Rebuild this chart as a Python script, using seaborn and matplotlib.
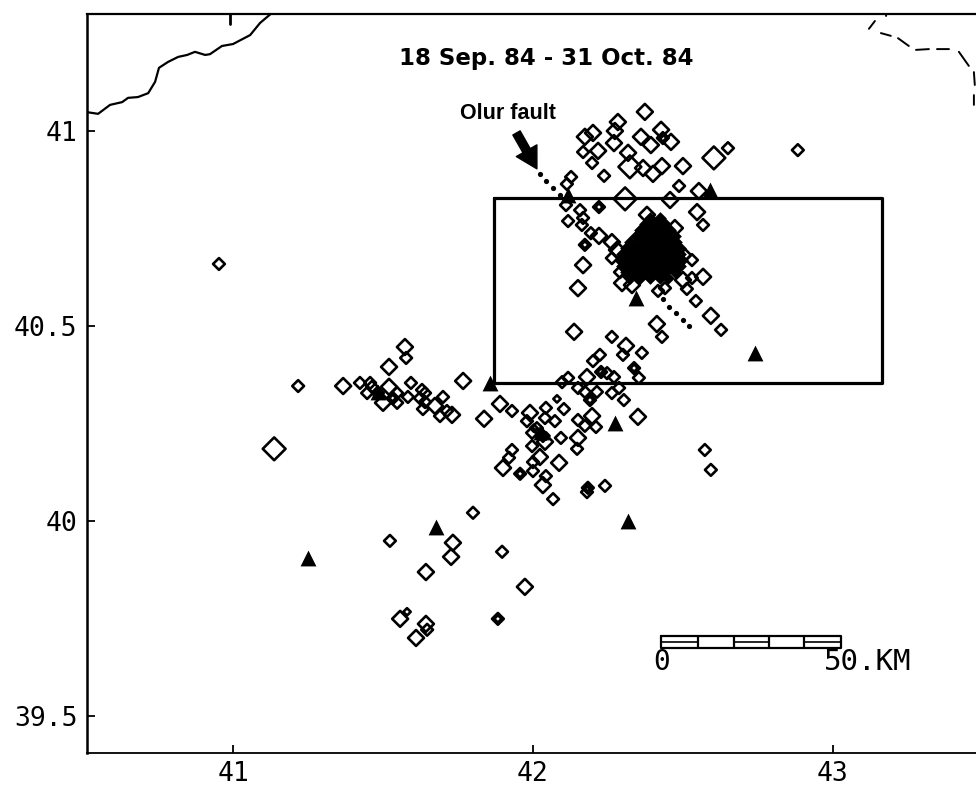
import numpy as np
import matplotlib
matplotlib.use("Agg")
import matplotlib.pyplot as plt
import seaborn as sns

# Epicentres (longitude, latitude), one pair of lists per symbol size
lon_xs = [42.080, 41.580, 42.433, 42.220, 42.173, 42.227, 42.337, 42.190, 41.957, 42.183, 41.883,
          42.023, 42.003, 42.043, 41.483, 41.533]
lat_xs = [40.313, 39.767, 40.982, 40.805, 40.708, 40.382, 40.392, 40.310, 40.121, 40.085, 39.749,
          40.228, 40.238, 40.218, 40.328, 40.315]

lon_s = [42.167, 42.197, 42.237, 42.433, 42.650, 42.487, 42.567, 42.127, 42.113, 42.110, 42.220,
         42.117, 42.157, 42.167, 42.163, 42.193, 42.173, 42.263, 42.290, 42.507, 42.530, 42.530,
         42.513, 42.440, 42.417, 42.543, 42.627, 42.430, 42.263, 42.300, 42.363, 42.223, 42.200,
         42.227, 42.247, 42.270, 42.337, 42.353, 42.117, 42.097, 42.150, 42.173, 42.213, 42.263,
         42.287, 42.303, 42.190, 42.103, 42.043, 41.930, 41.980, 42.040, 42.073, 42.150, 42.173,
         42.210, 41.997, 42.093, 42.147, 41.997, 41.930, 41.920, 42.000, 42.000, 41.957, 42.043,
         42.067, 42.183, 42.180, 42.240, 42.013, 42.033, 41.217, 41.577, 41.423, 41.457, 41.447,
         41.463, 41.483, 41.533, 41.547, 41.547, 41.593, 41.583, 41.630, 41.640, 41.623, 41.640,
         41.633, 41.700, 41.713, 41.690, 41.800, 41.523, 41.897, 41.883, 41.647, 42.883, 42.573,
         42.593, 40.953]
lat_s = [40.946, 40.918, 40.885, 40.982, 40.956, 40.859, 40.759, 40.882, 40.864, 40.810, 40.805,
         40.769, 40.797, 40.777, 40.759, 40.738, 40.708, 40.674, 40.638, 40.682, 40.669, 40.623,
         40.595, 40.597, 40.590, 40.564, 40.490, 40.472, 40.472, 40.426, 40.431, 40.426, 40.410,
         40.382, 40.379, 40.369, 40.392, 40.367, 40.367, 40.356, 40.341, 40.331, 40.331, 40.328,
         40.341, 40.310, 40.310, 40.287, 40.290, 40.282, 40.256, 40.264, 40.256, 40.259, 40.244,
         40.241, 40.226, 40.213, 40.185, 40.192, 40.182, 40.162, 40.151, 40.128, 40.121, 40.115,
         40.056, 40.085, 40.074, 40.090, 40.238, 40.218, 40.346, 40.418, 40.354, 40.354, 40.328,
         40.344, 40.328, 40.315, 40.328, 40.303, 40.354, 40.318, 40.336, 40.328, 40.315, 40.305,
         40.287, 40.318, 40.282, 40.269, 40.021, 39.949, 39.921, 39.749, 39.721, 40.951, 40.182,
         40.131, 40.659]

lon_m = [42.373, 42.283, 42.273, 42.200, 42.173, 42.217, 42.270, 42.317, 42.360, 42.427, 42.393,
         42.460, 42.367, 42.430, 42.400, 42.500, 42.553, 42.457, 42.547, 42.220, 42.167, 42.150,
         42.263, 42.280, 42.380, 42.473, 42.567, 42.500, 42.330, 42.297, 42.593, 42.413, 42.137,
         42.310, 42.180, 42.197, 42.350, 41.890, 41.837, 41.990, 42.040, 42.150, 42.023, 41.900,
         42.087, 42.033, 41.573, 41.520, 41.367, 41.520, 41.500, 41.673, 41.730, 41.767, 41.733,
         41.727, 41.643, 41.973, 41.557, 41.643, 41.610]
lat_m = [41.049, 41.023, 41.000, 40.995, 40.985, 40.949, 40.969, 40.944, 40.985, 41.003, 40.964,
         40.972, 40.905, 40.910, 40.890, 40.910, 40.846, 40.823, 40.792, 40.731, 40.656, 40.597,
         40.715, 40.695, 40.785, 40.751, 40.626, 40.618, 40.605, 40.610, 40.526, 40.505, 40.485,
         40.449, 40.369, 40.269, 40.267, 40.300, 40.262, 40.277, 40.203, 40.213, 40.164, 40.136,
         40.149, 40.092, 40.446, 40.395, 40.346, 40.344, 40.303, 40.295, 40.272, 40.359, 39.944,
         39.908, 39.869, 39.831, 39.749, 39.736, 39.700]

lon_l = [42.323, 42.603, 42.307, 41.137]
lat_l = [40.908, 40.931, 40.826, 40.185]

# Main shock cluster, so dense in the original that it prints solid
lon_blob = [42.390, 42.423,
            42.373, 42.407, 42.440,
            42.357, 42.390, 42.423, 42.457,
            42.343, 42.373, 42.407, 42.440, 42.473,
            42.323, 42.357, 42.390, 42.423, 42.457, 42.477,
            42.310, 42.340, 42.373, 42.407, 42.440, 42.473, 42.490,
            42.297, 42.323, 42.357, 42.390, 42.423, 42.457, 42.490,
            42.290, 42.307, 42.340, 42.373, 42.407, 42.440, 42.473, 42.497,
            42.297, 42.323, 42.357, 42.390, 42.423, 42.457, 42.490,
            42.310, 42.340, 42.373, 42.407, 42.440, 42.473,
            42.323, 42.357, 42.390, 42.423, 42.450]
lat_blob = [40.777, 40.777,
            40.762, 40.762, 40.762,
            40.746, 40.746, 40.746, 40.746,
            40.731, 40.731, 40.731, 40.731, 40.731,
            40.715, 40.715, 40.715, 40.715, 40.715, 40.715,
            40.700, 40.700, 40.700, 40.700, 40.700, 40.700, 40.700,
            40.685, 40.685, 40.685, 40.685, 40.685, 40.685, 40.685,
            40.669, 40.669, 40.669, 40.669, 40.669, 40.669, 40.669, 40.669,
            40.654, 40.654, 40.654, 40.654, 40.654, 40.654, 40.654,
            40.638, 40.638, 40.638, 40.638, 40.638, 40.638,
            40.623, 40.623, 40.623, 40.623, 40.623]

# Stations
lon_sta = [42.590, 42.117, 42.343, 42.740, 41.857, 41.483, 42.273, 42.317, 41.677, 41.250, 42.027]
lat_sta = [40.849, 40.836, 40.572, 40.431, 40.354, 40.331, 40.251, 40.000, 39.985, 39.905, 40.228]

# Olur fault trace (dotted)
lon_fault = [42.023, 42.043, 42.067, 42.090, 42.433, 42.453, 42.477, 42.500, 42.520]
lat_fault = [40.890, 40.872, 40.854, 40.836, 40.569, 40.549, 40.533, 40.515, 40.500]

# Black Sea coast
lon_coast = [40.507, 40.550, 40.590, 40.630, 40.650, 40.683, 40.717, 40.740, 40.753, 40.783,
             40.817, 40.847, 40.873, 40.907, 40.923, 40.963, 41.000, 41.057, 41.090, 41.133]
lat_coast = [41.049, 41.044, 41.067, 41.074, 41.085, 41.087, 41.097, 41.126, 41.162, 41.177,
             41.190, 41.195, 41.203, 41.195, 41.197, 41.218, 41.223, 41.246, 41.277, 41.305]

# Border, gaps kept as nan
lon_border = [43.180, 43.177, np.nan, 43.140, 43.120, np.nan, 43.160, 43.193, np.nan, 43.217, 43.253,
              np.nan, 43.277, 43.320, np.nan, 43.347, 43.387, np.nan, 43.420, 43.453, np.nan,
              43.470, 43.473, np.nan, 43.470, 43.470]
lat_border = [41.310, 41.295, np.nan, 41.282, 41.262, np.nan, 41.251, 41.244, np.nan, 41.238, 41.218,
              np.nan, 41.208, 41.210, np.nan, 41.210, 41.210, np.nan, 41.203, 41.167, np.nan,
              41.151, 41.118, np.nan, 41.092, 41.067]

# Study box
box_lon = [41.870, 43.163, 43.163, 41.870, 41.870]
box_lat = [40.828, 40.828, 40.354, 40.354, 40.828]

# Scale bar
bar_lon = [42.427, 42.550, 42.670, 42.787, 42.903, 43.027]
bar_top, bar_mid, bar_bottom = 39.705, 39.690, 39.674

x_ticks = [41, 42, 43]
y_ticks = [39.5, 40, 40.5, 41]
y_labels = ["39.5", "40", "40.5", "41"]

sns.set_theme(style="white")
plt.rcParams["font.family"] = ["DejaVu Sans Mono", "DejaVu Sans"]

fig = plt.figure(figsize=(9.76, 7.87), dpi=100)
ax = fig.add_axes([87 / 976, 34 / 787, 889 / 976, 739 / 787])

for xs, ys, size in [(lon_s, lat_s, 36), (lon_m, lat_m, 66), (lon_l, lat_l, 135), (lon_xs, lat_xs, 14)]:
    sns.scatterplot(x=xs, y=ys, marker="D", s=size, facecolor="none", edgecolor="black",
                    linewidth=1.9, ax=ax, zorder=3)
sns.scatterplot(x=lon_blob, y=lat_blob, marker="D", s=42, color="black", linewidth=0, ax=ax, zorder=4)
sns.scatterplot(x=lon_sta, y=lat_sta, marker="^", s=130, color="black", linewidth=0, ax=ax, zorder=5)
sns.scatterplot(x=lon_fault, y=lat_fault, marker="o", s=14, color="black", linewidth=0, ax=ax, zorder=5)

sns.lineplot(x=lon_coast, y=lat_coast, color="black", linewidth=1.6, sort=False, estimator=None, ax=ax)
ax.plot(lon_border, lat_border, color="black", linewidth=1.4)
ax.plot(box_lon, box_lat, color="black", linewidth=2.3, zorder=6)

# scale bar: frame, dividers, then the centre line on every other segment
ax.plot([bar_lon[0], bar_lon[-1], bar_lon[-1], bar_lon[0], bar_lon[0]],
        [bar_top, bar_top, bar_bottom, bar_bottom, bar_top], color="black", linewidth=1.6)
ax.vlines(bar_lon[1:-1], bar_bottom, bar_top, color="black", linewidth=1.6)
for i in [0, 2, 4]:
    ax.plot([bar_lon[i], bar_lon[i + 1]], [bar_mid, bar_mid], color="black", linewidth=1.2)

ax.text(42.430, 39.638, "0", fontsize=20, ha="center", va="center", color="black")
ax.text(42.970, 39.638, "50.KM", fontsize=21, ha="left", va="center", color="black")

ax.text(42.043, 41.185, "18 Sep. 84 - 31 Oct. 84", fontsize=16.5, fontweight="bold",
        family="DejaVu Sans", ha="center", va="center", color="black")
ax.text(41.917, 41.044, "Olur fault", fontsize=15.5, fontweight="bold",
        family="Liberation Sans", ha="center", va="center", color="black")
ax.annotate("", xy=(42.013, 40.903), xytext=(41.945, 40.995),
            arrowprops=dict(facecolor="black", edgecolor="black", width=6, headwidth=17, headlength=15, shrink=0))

# short tick on the top frame
ax.plot([40.990, 40.990], [41.300, 41.275], color="black", linewidth=2)

ax.set_xlim(40.513, 43.477)
ax.set_ylim(39.405, 41.300)
ax.set_xticks(x_ticks)
ax.set_yticks(y_ticks)
ax.set_yticklabels(y_labels)
ax.tick_params(axis="both", direction="in", length=6, width=1.3, labelsize=19, colors="black", bottom=True, left=True)
ax.tick_params(axis="x", pad=6)
ax.tick_params(axis="y", pad=7)
for side in ["left", "top", "bottom"]:
    ax.spines[side].set_color("black")
ax.spines["left"].set_linewidth(1.8)
ax.spines["top"].set_linewidth(1.6)
ax.spines["bottom"].set_linewidth(1.3)
ax.spines["right"].set_visible(False)
ax.set_xlabel("")
ax.set_ylabel("")

fig.savefig("out.png", dpi=100)
